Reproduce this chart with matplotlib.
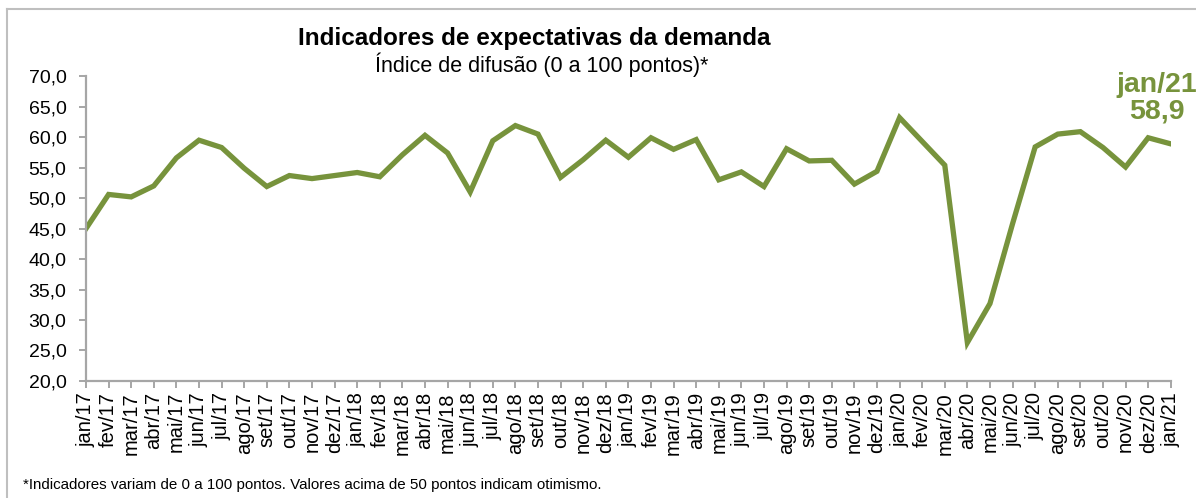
#!/usr/bin/env python3
"""
Indicadores de expectativas da demanda - indice de difusao, jan/17 a jan/21.
"""

import numpy as np
import matplotlib
matplotlib.use("Agg")
import matplotlib.pyplot as plt
from matplotlib.lines import Line2D

plt.rcParams['font.family'] = ['Liberation Sans', 'DejaVu Sans']

# Month labels (pt-BR)
months = ['jan', 'fev', 'mar', 'abr', 'mai', 'jun',
          'jul', 'ago', 'set', 'out', 'nov', 'dez']
years = ['17', '18', '19', '20']
labels = [f'{m}/{y}' for y in years for m in months] + ['jan/21']

# Diffusion index values
values = [
    45.0, 50.6, 50.2, 52.0, 56.6, 59.5, 58.3, 54.9, 51.9, 53.7, 53.2, 53.7,
    54.2, 53.5, 57.1, 60.3, 57.4, 51.0, 59.4, 61.9, 60.5, 53.4, 56.3, 59.5,
    56.7, 59.9, 58.0, 59.6, 53.0, 54.3, 51.9, 58.1, 56.1, 56.2, 52.3, 54.4,
    63.2, 59.3, 55.4, 26.3, 32.7, 45.8, 58.4, 60.5, 60.9, 58.3, 55.1, 59.9,
    58.9,
]

y_ticks = np.arange(20, 71, 5)
line_color = '#77933C'
axis_gray = '#A6A6A6'

fig = plt.figure(figsize=(11.96, 4.98), dpi=100)
ax = fig.add_axes([0.0719, 0.235, 0.9070, 0.612])

x = np.arange(len(values))
ax.plot(x, values, color=line_color, linewidth=3.8, solid_joinstyle='miter')

ax.set_xlim(0, len(values) - 1)
ax.set_ylim(20, 70)
ax.set_yticks(y_ticks)
ax.set_yticklabels([f'{v:.1f}'.replace('.', ',') for v in y_ticks], fontsize=14)
ax.set_xticks(x)
ax.set_xticklabels(labels, rotation=90, fontsize=14.5)

for side in ('top', 'right'):
    ax.spines[side].set_visible(False)
for side in ('left', 'bottom'):
    ax.spines[side].set_color(axis_gray)
    ax.spines[side].set_linewidth(1.6)
ax.tick_params(axis='both', color=axis_gray, width=1.4, length=5, pad=3)
ax.tick_params(axis='y', pad=9)

# Highlight of the last observation
ax.annotate(f'{labels[-1]}\n{values[-1]:.1f}'.replace('.', ','),
            xy=(x[-1], values[-1]), xytext=(-10, 33), textcoords='offset points',
            ha='center', va='center', fontsize=20.5, fontweight='bold',
            color=line_color, linespacing=1.05, annotation_clip=False)

# Titles
fig.text(0.447, 0.923, 'Indicadores de expectativas da demanda',
         ha='center', va='center', fontsize=17.5, fontweight='bold')
fig.text(0.453, 0.870, 'Índice de difusão (0 a 100 pontos)*',
         ha='center', va='center', fontsize=15.5)

# Footnote
fig.text(0.019, 0.026,
         '*Indicadores variam de 0 a 100 pontos. Valores acima de 50 pontos indicam otimismo.',
         ha='left', va='center', fontsize=10.9)

# Chart frame (only top and left edges visible in the source)
fig.add_artist(Line2D([0.006, 1.0], [0.982, 0.982], color='#BFBFBF', linewidth=1.5,
                      transform=fig.transFigure))
fig.add_artist(Line2D([0.006, 0.006], [0.0, 0.982], color='#BFBFBF', linewidth=1.5,
                      transform=fig.transFigure))

fig.savefig('out.png', dpi=100)
